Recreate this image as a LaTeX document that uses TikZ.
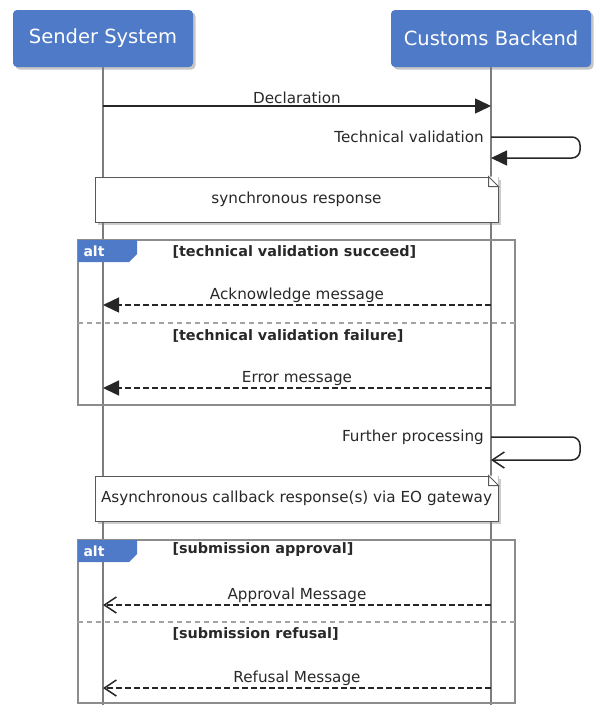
\documentclass[tikz,border=0pt]{standalone}
\usepackage{fontspec}
\setmainfont{DejaVu Sans}
\usetikzlibrary{positioning,calc,arrows.meta,shadows}
\definecolor{actorblue}{RGB}{79,122,199}
\definecolor{lifegray}{RGB}{125,125,125}
\definecolor{framegray}{RGB}{140,140,140}
\definecolor{textgray}{RGB}{40,40,40}
\tikzstyle{actor} = [rectangle, rounded corners=4pt, minimum height=57pt, text centered, fill=actorblue, text=white, font=\fontsize{19.5}{22}\selectfont, drop shadow={shadow xshift=2.5pt, shadow yshift=-2.5pt, opacity=0.45}]
\tikzstyle{lifeline} = [draw=lifegray, line width=1.4pt]
\tikzstyle{msglabel} = [text=textgray, font=\fontsize{15.2}{18}\selectfont, inner sep=2pt]
\tikzstyle{call} = [line width=1.5pt, draw=black!85, -{Triangle[length=16pt,width=15pt]}]
\tikzstyle{reply} = [call, dash pattern=on 6pt off 3pt]
\tikzstyle{self} = [line width=1.5pt, draw=black!85, rounded corners=8pt, -{Straight Barb[length=12pt,width=16pt]}]
\tikzstyle{async} = [line width=1.5pt, draw=black!85, dash pattern=on 6pt off 3pt, -{Straight Barb[length=12pt,width=16pt]}]
\tikzstyle{note} = [rectangle, draw=black!65, line width=1pt, fill=white, minimum width=403pt, minimum height=45pt, text=textgray, font=\fontsize{15.2}{18}\selectfont, drop shadow={shadow xshift=2.5pt, shadow yshift=-2.5pt, opacity=0.4}]
\tikzstyle{frame} = [draw=framegray, line width=1.5pt]
\tikzstyle{separator} = [draw=framegray!80, line width=1.5pt, dash pattern=on 5pt off 4pt]
\tikzstyle{guard} = [anchor=west, text=textgray, font=\bfseries\fontsize{14.4}{17}\selectfont]
\tikzstyle{tablabel} = [anchor=west, text=white, font=\bfseries\fontsize{14}{16}\selectfont]
% folded corner of a note
\newcommand{\dogear}[1]{
  \fill[white] ($(#1.north east)+(-10,0)$) -- (#1.north east) -- ++(0,-10) -- cycle;
  \draw[draw=black!65, line width=1pt] ($(#1.north east)+(-10,0)$) -- ++(10,-10) -- ++(-10,0) -- cycle;
}
% alt fragment with its tab
\newcommand{\altframe}[3]{
  \draw[frame] (#1) rectangle (#2);
  \fill[actorblue] (#1) -- ++(59,0) -- ++(0,-14) -- ++(-8,-8) -- ++(-51,0) -- cycle;
  \node (#3)[tablabel] at ($(#1)+(2,-11)$) {alt};
}

\begin{document}
\begin{tikzpicture}[x=1pt, y=1pt]
  \useasboundingbox (0,0) rectangle (594,-705);
  % lifelines
  \coordinate (senderbot) at (103,-705);
  \coordinate (backendbot) at (491,-705);
  \draw[lifeline] (103,-40) -- (senderbot);
  \draw[lifeline] (491,-40) -- (backendbot);
  % participants
  \node (sender)[actor, minimum width=180pt] at (103,-38.5) {Sender System};
  \node (backend)[actor, minimum width=200pt] at (491,-38.5) {Customs Backend};
  % message rows
  \foreach \row/\y in {decl/106, ack/305, err/388, appr/605, refu/688}{
    \coordinate (\row-s) at (103,-\y);
    \coordinate (\row-b) at (491,-\y);
  }
  \coordinate (tv-a) at (491,-137);
  \coordinate (tv-b) at (491,-158);
  \coordinate (fp-a) at (491,-437);
  \coordinate (fp-b) at (491,-460);

  \draw[call] (decl-s) -- (decl-b) node[msglabel, midway, above] {Declaration};
  \draw[self, -{Triangle[length=16pt,width=15pt]}] (tv-a) -- ++(89,0) |- (tv-b);
  \node (tvlabel)[msglabel, anchor=east, xshift=-5pt] at (tv-a) {Technical validation};

  \node (note1)[note] at (296.5,-199.5) {synchronous response};
  \dogear{note1}

  % first alt fragment
  \coordinate (alt1-nw) at (78,-240);
  \coordinate (alt1-se) at (515,-405);
  \altframe{alt1-nw}{alt1-se}{alt1}
  \node (g1)[guard] at (169,-252) {[technical validation succeed]};
  \draw[reply] (ack-b) -- (ack-s) node[msglabel, midway, above] {Acknowledge message};
  \draw[separator] (78,-323) -- (515,-323);
  \node (g2)[guard] at (169,-336) {[technical validation failure]};
  \draw[reply] (err-b) -- (err-s) node[msglabel, midway, above] {Error message};

  \draw[self] (fp-a) -- ++(89,0) |- (fp-b);
  \node (fplabel)[msglabel, anchor=east, xshift=-5pt] at (fp-a) {Further processing};

  \node (note2)[note] at (296.5,-498.5) {Asynchronous callback response(s) via EO gateway};
  \dogear{note2}

  % second alt fragment
  \coordinate (alt2-nw) at (78,-540);
  \coordinate (alt2-se) at (515,-703);
  \altframe{alt2-nw}{alt2-se}{alt2}
  \node (g3)[guard] at (169,-550) {[submission approval]};
  \draw[async] (appr-b) -- (appr-s) node[msglabel, midway, above] {Approval Message};
  \draw[separator] (78,-622) -- (515,-622);
  \node (g4)[guard] at (169,-634) {[submission refusal]};
  \draw[async] (refu-b) -- (refu-s) node[msglabel, midway, above] {Refusal Message};
\end{tikzpicture}
\end{document}
